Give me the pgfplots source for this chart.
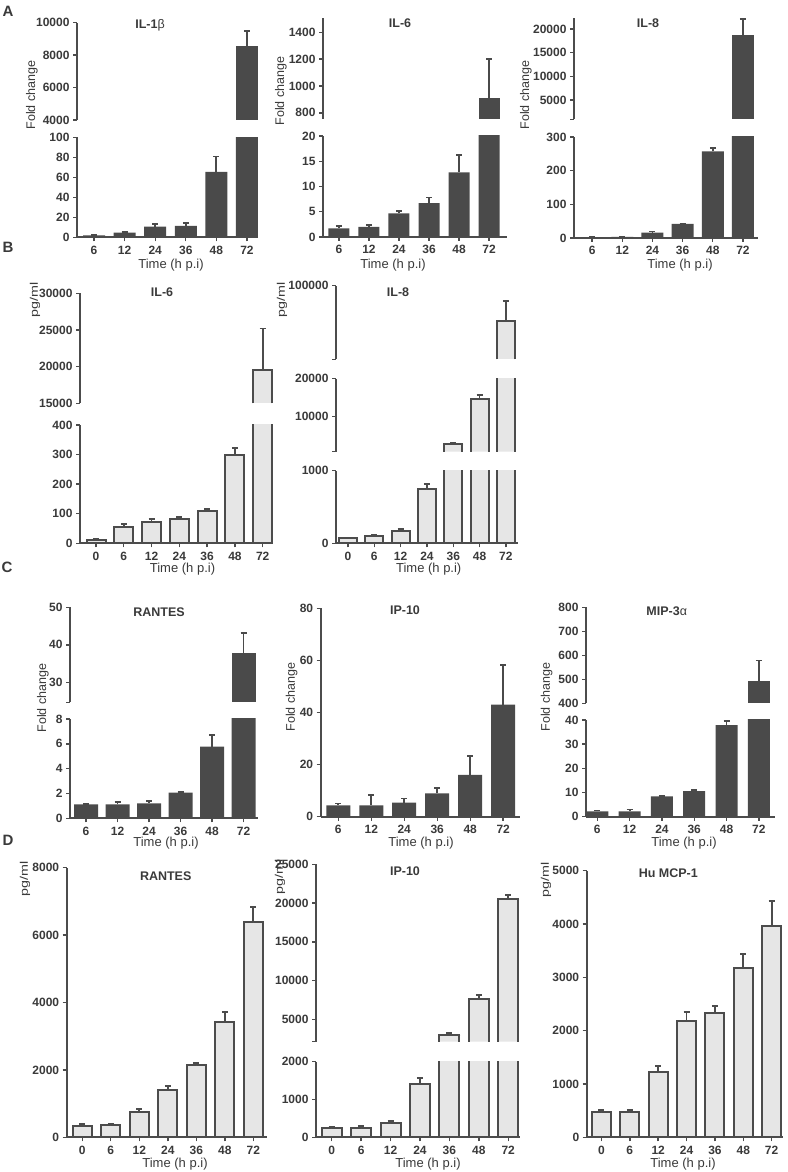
\documentclass[border=0pt]{standalone}
\usepackage{pgfplots}
\pgfplotsset{compat=1.18}
\usepackage{pgfplotstable}
\usepackage{fontspec}
\setmainfont{Liberation Sans}
\definecolor{bardark}{HTML}{4A4A4A}
\definecolor{barlight}{HTML}{E6E6E6}
\definecolor{axc}{HTML}{4C4C4C}
\definecolor{txc}{HTML}{3A3A3A}
\newcommand\tickfont{\fontsize{12}{13}\selectfont\bfseries}
\newcommand\labfont{\fontsize{13}{14}\selectfont}
\newcommand\ylabfont{\fontsize{12.5}{13}\selectfont}
\newcommand\titfont{\fontsize{12.5}{13}\selectfont\bfseries}

\pgfplotsset{
 common/.style={scale only axis, anchor=south west, clip=true,
   axis y line*=left,
   axis line style={draw=axc, line width=1.8pt},
   tick align=outside, major tick length=4pt,
   tick style={draw=axc, line width=1.4pt},
   yticklabel style={font=\tickfont, text=txc, /pgf/number format/fixed, /pgf/number format/precision=0, /pgf/number format/1000 sep={}, /pgf/number format/assume math mode=true},
   scaled y ticks=false,
   extra y tick labels={},
   extra y tick style={tick style={draw=axc, line width=1.4pt}},
 },
 seg/.style={common, axis x line=none},
 low/.style={common, axis x line*=bottom, tick align=outside, xtick={0,...,#1},
   xticklabel style={font=\tickfont, text=txc, yshift=-1pt}},
 six/.style={low=5, xticklabels={6,12,24,36,48,72}},
 seven/.style={low=6, xticklabels={0,6,12,24,36,48,72}},
 dbar/.style={ybar, bar width=#1, fill=bardark, draw=none,
   error bars/y dir=plus, error bars/y explicit,
   error bars/error bar style={draw=bardark, line width=1.8pt},
   error bars/error mark options={rotate=90, draw=bardark, line width=1.8pt, mark size=3pt}},
 lbar/.style={ybar, bar width=#1, fill=barlight, draw=axc, line width=2pt,
   error bars/y dir=plus, error bars/y explicit,
   error bars/error bar style={draw=axc, line width=1.8pt},
   error bars/error mark options={rotate=90, draw=axc, line width=1.8pt, mark size=3pt}},
 edge/.style={ycomb, draw=axc, line width=2pt, xshift=#1},
 topedge/.style={only marks, mark=-, mark size=#1, mark options={draw=axc, line width=2pt}},
}

\pgfplotstableread{
x y e
0 2 0.3
1 4.7 0.4
2 10.7 2.3
3 11.3 2.7
4 65.3 15.4
5 8580 910
}\dAa
\pgfplotstableread{
x y e
0 1.7 0.4
1 2.0 0.4
2 4.7 0.5
3 6.7 1.1
4 12.8 3.5
5 913 287
}\dAb
\pgfplotstableread{
x y e
0 2 0.5
1 3 0.5
2 16 3
3 41.6 1
4 257 10
5 18730 3380
}\dAc
\pgfplotstableread{
x y e
0 11.3 3.3
1 56 9
2 73 10
3 82 6
4 110 6
5 298 23
6 19500 5700
}\dBa
\pgfplotstableread{
x y e
0 69 9
1 101 9
2 174 28
3 743 74
4 2720 440
5 14650 1050
6 61600 22100
}\dBb
\pgfplotstableread{
x y e
0 1.13 0.02
1 1.13 0.16
2 1.21 0.19
3 2.07 0.02
4 5.77 0.94
5 37.9 5.3
}\dCa
\pgfplotstableread{
x y e
0 4.35 0.75
1 4.35 3.85
2 5.4 1.6
3 9.0 1.9
4 16.1 7.3
5 43.0 15.2
}\dCb
\pgfplotstableread{
x y e
0 2.2 0.4
1 2.2 0.8
2 8.4 0.3
3 10.6 0.4
4 37.9 1.8
5 493 85
}\dCc
\pgfplotstableread{
x y e
0 346 50
1 356 40
2 762 69
3 1405 118
4 2137 79
5 3422 307
6 6380 463
}\dDa
\pgfplotstableread{
x y e
0 238 44
1 238 70
2 370 62
3 1410 149
4 3022 172
5 7624 560
6 20484 516
}\dDb
\pgfplotstableread{
x y e
0 469 43
1 469 43
2 1219 125
3 2188 168
4 2325 138
5 3181 250
6 3963 475
}\dDc

\begin{document}
\begin{tikzpicture}[x=1pt,y=1pt]
\useasboundingbox (0pt,0pt) rectangle (787pt,1172pt);
\fill[white] (0pt,0pt) rectangle (787pt,1172pt);

% ---------------- A ----------------
\begin{axis}[six, at={(77pt,934.7pt)}, width=181pt, height=100pt, xmin=-0.556, xmax=5.36, ymin=0, ymax=100, ytick={0,20,...,100}]
\addplot[dbar=22pt] table[x=x, y expr={min(\thisrow{y},120)}, y error expr={\thisrow{y}>120 ? 0 : \thisrow{e}}]{\dAa};
\end{axis}
\begin{axis}[seg, at={(77pt,1052pt)}, width=181pt, height=97.3pt, xmin=-0.556, xmax=5.36, ymin=4000, ymax=10000, ytick={4000,6000,8000,10000}]
\addplot[dbar=22pt, restrict y to domain=4000:1e7] table[x=x,y=y,y error=e]{\dAa};
\end{axis}

\begin{axis}[six, at={(323pt,935pt)}, width=184pt, height=101pt, xmin=-0.533, xmax=5.6, ymin=0, ymax=20, ytick={0,5,...,20}]
\addplot[dbar=21pt] table[x=x, y expr={min(\thisrow{y},24)}, y error expr={\thisrow{y}>24 ? 0 : \thisrow{e}}]{\dAb};
\end{axis}
\begin{axis}[seg, at={(323pt,1053pt)}, width=184pt, height=100.7pt, xmin=-0.533, xmax=5.6, ymin=754, ymax=1504, ytick={800,1000,1200,1400}]
\addplot[dbar=21pt, restrict y to domain=754:1e7] table[x=x,y=y,y error=e]{\dAb};
\end{axis}

\begin{axis}[six, at={(574pt,934pt)}, width=184pt, height=101pt, xmin=-0.6, xmax=5.5, ymin=0, ymax=300, ytick={0,100,200,300}]
\addplot[dbar=22pt] table[x=x, y expr={min(\thisrow{y},360)}, y error expr={\thisrow{y}>360 ? 0 : \thisrow{e}}]{\dAc};
\end{axis}
\begin{axis}[seg, at={(574pt,1052.7pt)}, width=184pt, height=101pt, xmin=-0.6, xmax=5.5, ymin=915, ymax=22250, ytick={5000,10000,15000,20000}, extra y ticks={915}]
\addplot[dbar=22pt, restrict y to domain=915:1e7] table[x=x,y=y,y error=e]{\dAc};
\end{axis}

% ---------------- B ----------------
\begin{axis}[seven, at={(80pt,628.7pt)}, width=193pt, height=118.3pt, xmin=-0.576, xmax=6.37, ymin=0, ymax=400, ytick={0,100,...,400}]
\addplot[lbar=19pt] table[x=x, y expr={min(\thisrow{y},480)}, y error expr={\thisrow{y}>480 ? 0 : \thisrow{e}}]{\dBa};
\end{axis}
\begin{axis}[seg, at={(80pt,768.7pt)}, width=193pt, height=110pt, xmin=-0.576, xmax=6.37, ymin=15000, ymax=30000, ytick={15000,20000,25000,30000}]
\addplot[lbar=19pt, draw=none, restrict y to domain=15000:1e7] table[x=x,y=y,y error=e]{\dBa};
\addplot[edge=-9.5pt, restrict y to domain=15000:1e7] table[x=x,y=y]{\dBa};
\addplot[edge=9.5pt, restrict y to domain=15000:1e7] table[x=x,y=y]{\dBa};
\addplot[topedge=10.5pt, restrict y to domain=15000:1e7] table[x=x,y=y]{\dBa};
\end{axis}

\begin{axis}[seven, at={(336pt,628.7pt)}, width=182pt, height=72.6pt, xmin=-0.456, xmax=6.46, ymin=0, ymax=1000, ytick={0,1000}]
\addplot[lbar=18pt] table[x=x, y expr={min(\thisrow{y},1200)}, y error expr={\thisrow{y}>1200 ? 0 : \thisrow{e}}]{\dBb};
\end{axis}
\begin{axis}[seg, at={(336pt,720.3pt)}, width=182pt, height=73pt, xmin=-0.456, xmax=6.46, ymin=789, ymax=20000, ytick={10000,20000}, extra y ticks={789}]
\addplot[lbar=18pt, draw=none, restrict y to domain=789:1e7] table[x=x, y expr={min(\thisrow{y},24000)}, y error expr={\thisrow{y}>24000 ? 0 : \thisrow{e}}]{\dBb};
\addplot[edge=-9pt, restrict y to domain=789:1e7] table[x=x, y expr={min(\thisrow{y},24000)}]{\dBb};
\addplot[edge=9pt, restrict y to domain=789:1e7] table[x=x, y expr={min(\thisrow{y},24000)}]{\dBb};
\addplot[topedge=10pt, restrict y to domain=789:1e7] table[x=x, y expr={min(\thisrow{y},24000)}]{\dBb};
\end{axis}
\begin{axis}[seg, at={(336pt,812.7pt)}, width=182pt, height=73.6pt, xmin=-0.456, xmax=6.46, ymin=20000, ymax=100000, ytick={100000}, extra y ticks={20000}]
\addplot[lbar=18pt, draw=none, restrict y to domain=20000:1e7] table[x=x,y=y,y error=e]{\dBb};
\addplot[edge=-9pt, restrict y to domain=20000:1e7] table[x=x,y=y]{\dBb};
\addplot[edge=9pt, restrict y to domain=20000:1e7] table[x=x,y=y]{\dBb};
\addplot[topedge=10pt, restrict y to domain=20000:1e7] table[x=x,y=y]{\dBb};
\end{axis}

% ---------------- C ----------------
\begin{axis}[six, at={(70pt,353.7pt)}, width=188pt, height=99.3pt, xmin=-0.508, xmax=5.46, ymin=0, ymax=8, ytick={0,2,...,8}]
\addplot[dbar=24pt] table[x=x, y expr={min(\thisrow{y},10)}, y error expr={\thisrow{y}>10 ? 0 : \thisrow{e}}]{\dCa};
\end{axis}
\begin{axis}[seg, at={(70pt,469.7pt)}, width=188pt, height=95pt, xmin=-0.508, xmax=5.46, ymin=24.7, ymax=50, ytick={30,40,50}, extra y ticks={24.7}]
\addplot[dbar=24pt, restrict y to domain=24.7:1e7] table[x=x,y=y,y error=e]{\dCa};
\end{axis}

\begin{axis}[six, at={(320.7pt,355.3pt)}, width=199.3pt, height=208.4pt, xmin=-0.533, xmax=5.51, ymin=0, ymax=80, ytick={0,20,...,80}]
\addplot[dbar=24pt] table[x=x,y=y,y error=e]{\dCb};
\end{axis}

\begin{axis}[six, at={(586pt,355.3pt)}, width=189pt, height=96.7pt, xmin=-0.35, xmax=5.5, ymin=0, ymax=40, ytick={0,10,...,40}]
\addplot[dbar=22pt] table[x=x, y expr={min(\thisrow{y},48)}, y error expr={\thisrow{y}>48 ? 0 : \thisrow{e}}]{\dCc};
\end{axis}
\begin{axis}[seg, at={(586pt,468.7pt)}, width=189pt, height=96pt, xmin=-0.35, xmax=5.5, ymin=400, ymax=800, ytick={400,500,...,800}]
\addplot[dbar=22pt, restrict y to domain=400:1e7] table[x=x,y=y,y error=e]{\dCc};
\end{axis}

% ---------------- D ----------------
\begin{axis}[seven, at={(66.7pt,34.7pt)}, width=200.3pt, height=269.6pt, xmin=-0.547, xmax=6.48, ymin=0, ymax=8000, ytick={0,2000,...,8000}]
\addplot[lbar=19pt] table[x=x,y=y,y error=e]{\dDa};
\end{axis}

\begin{axis}[seven, at={(316pt,34.7pt)}, width=204pt, height=75.6pt, xmin=-0.534, xmax=6.4, ymin=0, ymax=2000, ytick={0,1000,2000}]
\addplot[lbar=20pt] table[x=x, y expr={min(\thisrow{y},2400)}, y error expr={\thisrow{y}>2400 ? 0 : \thisrow{e}}]{\dDb};
\end{axis}
\begin{axis}[seg, at={(316pt,130.3pt)}, width=204pt, height=177.4pt, xmin=-0.534, xmax=6.4, ymin=2118, ymax=25000, ytick={5000,10000,...,25000}, extra y ticks={2118}]
\addplot[lbar=20pt, draw=none, restrict y to domain=2118:1e7] table[x=x,y=y,y error=e]{\dDb};
\addplot[edge=-10pt, restrict y to domain=2118:1e7] table[x=x,y=y]{\dDb};
\addplot[edge=10pt, restrict y to domain=2118:1e7] table[x=x,y=y]{\dDb};
\addplot[topedge=11pt, restrict y to domain=2118:1e7] table[x=x,y=y]{\dDb};
\end{axis}

\begin{axis}[seven, at={(586.7pt,34.7pt)}, width=196.3pt, height=266.6pt, xmin=-0.52, xmax=6.4, ymin=0, ymax=5000, ytick={0,1000,...,5000}]
\addplot[lbar=19pt] table[x=x,y=y,y error=e]{\dDc};
\end{axis}

% ---------------- text ----------------
\begin{scope}[every node/.style={text=txc, inner sep=0pt}]
\node[font=\fontsize{15}{16}\selectfont\bfseries] at (8pt,1161pt) {A};
\node[font=\fontsize{15}{16}\selectfont\bfseries] at (8pt,925pt) {B};
\node[font=\fontsize{15}{16}\selectfont\bfseries] at (7pt,605pt) {C};
\node[font=\fontsize{15}{16}\selectfont\bfseries] at (8pt,332pt) {D};

\node[font=\titfont] at (150pt,1147pt) {IL-1{\mdseries β}};
\node[font=\titfont] at (400pt,1149pt) {IL-6};
\node[font=\titfont] at (648pt,1149pt) {IL-8};
\node[font=\titfont] at (162pt,880pt) {IL-6};
\node[font=\titfont] at (398pt,880pt) {IL-8};
\node[font=\titfont] at (159pt,559.3pt) {RANTES};
\node[font=\titfont] at (405pt,562pt) {IP-10};
\node[font=\titfont] at (666.7pt,560.3pt) {MIP-3{\mdseries α}};
\node[font=\titfont] at (165.7pt,295.3pt) {RANTES};
\node[font=\titfont] at (405pt,300.3pt) {IP-10};
\node[font=\titfont] at (668.3pt,298.7pt) {Hu MCP-1};

\foreach \x/\y in {171/907, 393/907, 680/907, 182.5/603, 428.7/603, 166/328.7, 421/328.7, 684/328.7, 175/7.7, 428/7.7, 683/7.7}
  \node[font=\labfont] at (\x pt,\y pt) {Time (h p.i)};
\foreach \x/\y in {32/1077, 281/1081, 526/1077, 43/474, 291.7/475, 546.7/475}
  \node[font=\ylabfont, rotate=90] at (\x pt,\y pt) {Fold change};
\foreach \x/\y in {35/872, 282/872, 25/293, 280/295, 546/292}
  \node[font=\fontsize{11}{12}\selectfont, rotate=90, xscale=1.3] at (\x pt,\y pt) {pg/ml};
\end{scope}
\end{tikzpicture}
\end{document}
